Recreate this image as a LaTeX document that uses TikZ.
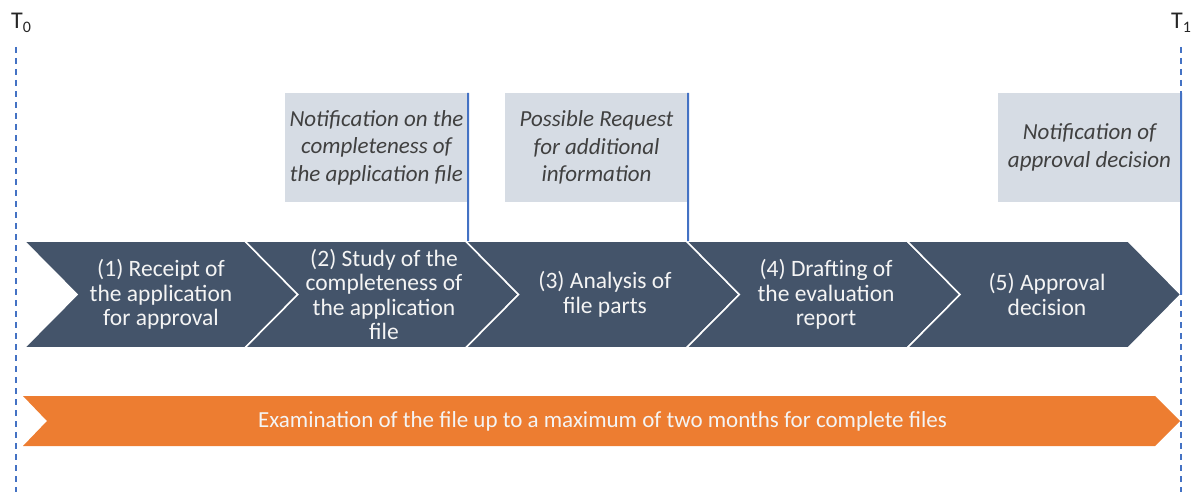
\documentclass[tikz,border=0pt]{standalone}
\usepackage{fontspec}
\setmainfont{Carlito}
\definecolor{chev}{HTML}{44546A}
\definecolor{note}{HTML}{D6DCE4}
\definecolor{mark}{HTML}{4472C4}
\definecolor{span}{HTML}{ED7D31}
\definecolor{ink}{HTML}{404040}
\definecolor{lbl}{HTML}{262626}
\definecolor{paper}{HTML}{F4F4F4}
\begin{document}
\begin{tikzpicture}[x=1pt,y=-1pt,
  stage/.style={fill=chev, draw=white, line width=1.6pt, line join=miter},
  stagetext/.style={text=paper, font=\fontsize{23.5}{24.5}\selectfont, align=center, inner sep=0pt},
  notebox/.style={fill=note, draw=none, minimum width=183pt, minimum height=109pt, inner sep=0pt,
    text=ink, font=\fontsize{23}{27.5}\selectfont\itshape, align=center},
  marker/.style={draw=mark, line width=2pt},
  timeline/.style={draw=mark, line width=2pt, dash pattern=on 6pt off 5pt},
  tlabel/.style={text=lbl, font=\fontsize{24}{24}\selectfont, inner sep=0pt},
]
\useasboundingbox (0,0) rectangle (1196,492);

% process stages
\foreach \L in {24,244.75,465.5,686.25,907}{
  \path[stage] (\L,241) -- ++(221,0) -- ++(53,53.5) -- ++(-53,53.5) -- ++(-221,0) -- ++(53,-53.5) -- cycle;
}
\node[stagetext] (s1) at (161,294.5) {(1) Receipt of\\the application\\for approval};
\node[stagetext] (s2) at (384,294.5) {(2) Study of the\\completeness of\\the application\\file};
\node[stagetext] (s3) at (605,294.5) {(3) Analysis of\\file parts};
\node[stagetext] (s4) at (826,294.5) {(4) Drafting of\\the evaluation\\report};
\node[stagetext] (s5) at (1047,294.5) {(5) Approval\\decision};

% overall duration
\path[fill=span] (23,396) -- (1155,396) -- (1180,421) -- (1155,446) -- (23,446) -- (47,421) -- cycle;
\node[text=paper, font=\fontsize{23}{24}\selectfont, inner sep=0pt] (dur) at (602.5,421)
  {Examination of the file up to a maximum of two months for complete files};

% notifications
\node[notebox] (n1) at (376.5,147.5) {Notification on the\\completeness of\\the application file};
\node[notebox] (n2) at (596.5,147.5) {Possible Request\\for additional\\information};
\node[notebox] (n3) at (1089.5,147.5) {Notification of\\approval decision};
\coordinate (k1) at (468,241);
\coordinate (k2) at (688,241);
\coordinate (k3) at (1181,294.5);
\draw[marker] (n1.north east) -- (k1);
\draw[marker] (n2.north east) -- (k2);
\draw[marker] (n3.north east) -- (k3);

% start and end of the procedure
\node[tlabel, anchor=base west] (t0) at (11,29) {T\raisebox{-4pt}{\fontsize{16}{16}\selectfont 0}};
\node[tlabel, anchor=base west] (t1) at (1171,29) {T\raisebox{-4pt}{\fontsize{16}{16}\selectfont 1}};
\coordinate (a0) at (16,47);
\coordinate (z0) at (16,492);
\coordinate (a1) at (1181,47);
\coordinate (z1) at (1181,492);
\draw[timeline] (a0) -- (z0);
\draw[timeline] (a1) -- (z1);
\end{tikzpicture}
\end{document}
